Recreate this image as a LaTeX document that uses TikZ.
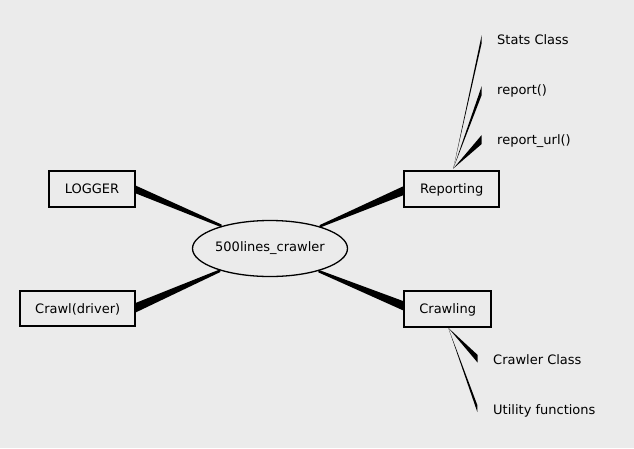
\documentclass[tikz,border=0pt]{standalone}
\usepackage{fontspec}
\setmainfont{DejaVu Sans}
\usetikzlibrary{calc,shapes.geometric}
\definecolor{bgcol}{HTML}{EBEBEB}
\begin{document}
\begin{tikzpicture}[x=1pt,y=-1pt,
  txt/.style={font=\fontsize{13}{15}\selectfont},
  box/.style={txt,draw=black,line width=1.8pt,inner sep=0pt,text height=9.5pt,text depth=0pt},
  lab/.style={txt,inner sep=0pt,anchor=base west},
  wedge/.style={fill=black}]
\useasboundingbox (0,0) rectangle (634,448);
\fill[bgcol] (0,0) rectangle (634,448);

% main nodes
\node[box,minimum width=86.2pt,minimum height=36.2pt] (logger) at (92,189) {LOGGER};
\node[box,minimum width=114.9pt,minimum height=35.2pt] (driver) at (77.7,308.5) {Crawl(driver)};
\node[box,minimum width=94.9pt,minimum height=36.2pt] (rep) at (451.7,189) {Reporting};
\node[box,minimum width=86.9pt,minimum height=35.9pt] (crawling) at (447.7,309) {Crawling};
\node[txt,ellipse,draw=black,line width=1.3pt,inner sep=0pt,minimum width=147pt,minimum height=56pt] (root) at (270,248.5) {500lines\_crawler};

% leaf labels
\node[lab] (stats) at (497,44) {Stats Class};
\node[lab] (rpt) at (497,94) {report()};
\node[lab] (rurl) at (497,144) {report\_url()};
\node[lab] (cc) at (493,364) {Crawler Class};
\node[lab] (uf) at (493,414) {Utility functions};

% main tapered connectors
\fill[wedge] ($(logger.east)+(-0.5,-3.5)$) -- ($(logger.east)+(-0.5,4.3)$)
  -- ($(root.155)+(0,1.4)$) -- ($(root.155)+(0,-1.4)$) -- cycle;
\fill[wedge] ($(driver.east)+(-0.5,-5.5)$) -- ($(driver.east)+(-0.5,4)$)
  -- ($(root.204)+(0,1.4)$) -- ($(root.204)+(0,-1.4)$) -- cycle;
\fill[wedge] ($(rep.west)+(0.5,-3)$) -- ($(rep.west)+(0.5,6)$)
  -- ($(root.24.3)+(0,1.3)$) -- ($(root.24.3)+(0,-1.3)$) -- cycle;
\fill[wedge] ($(crawling.west)+(0.5,-7.7)$) -- ($(crawling.west)+(0.5,1.7)$)
  -- ($(root.335.7)+(0,1.3)$) -- ($(root.335.7)+(0,-1.3)$) -- cycle;

% sub-branch connectors
\coordinate (ro) at ($(rep.north)+(1.6,-1.5)$);
\coordinate (co) at ($(crawling.south)+(0.6,0)$);
\fill[wedge] (ro) -- ($(stats.base west)+(-15.3,-9)$) -- ($(stats.base west)+(-15.3,-1)$) -- cycle;
\fill[wedge] (ro) -- ($(rpt.base west)+(-15.3,-8)$) -- ($(rpt.base west)+(-15.3,1)$) -- cycle;
\fill[wedge] (ro) -- ($(rurl.base west)+(-15.3,-9)$) -- ($(rurl.base west)+(-15.3,0)$) -- cycle;
\fill[wedge] (co) -- ($(cc.base west)+(-15.3,-9)$) -- ($(cc.base west)+(-15.3,-1.3)$) -- cycle;
\fill[wedge] (co) -- ($(uf.base west)+(-15.7,-9)$) -- ($(uf.base west)+(-15.7,-2)$) -- cycle;
\end{tikzpicture}
\end{document}
